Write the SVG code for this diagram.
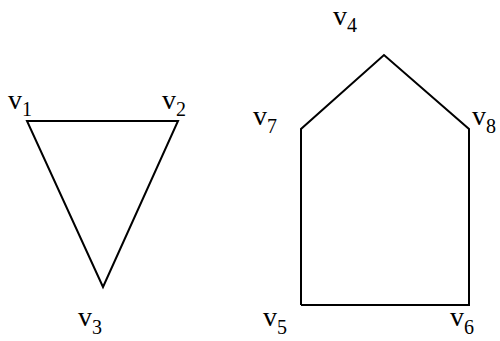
<svg xmlns="http://www.w3.org/2000/svg" width="500" height="341" viewBox="0 0 500 341">
<style>
.edge{fill:none;stroke:#000;stroke-width:2;stroke-linejoin:miter}
.lbl{font-family:"Liberation Serif","Times New Roman",serif;font-size:28px;fill:#000}
.sub{font-size:20px}
</style>
<rect width="500" height="341" fill="#fff"/>
<g id="connectors">
<polygon class="edge" points="27,121 178,121 103,287"/>
<polyline class="edge" points="301,305 301,129 384,55 469,129 469,305 301,305"/>
</g>
<g id="v1"><text class="lbl" x="8" y="109">v<tspan class="sub" dy="7">1</tspan></text></g>
<g id="v2"><text class="lbl" x="162" y="109">v<tspan class="sub" dy="7">2</tspan></text></g>
<g id="v3"><text class="lbl" x="78" y="326">v<tspan class="sub" dy="8">3</tspan></text></g>
<g id="v4"><text class="lbl" x="333" y="25">v<tspan class="sub" dy="7">4</tspan></text></g>
<g id="v5"><text class="lbl" x="263" y="326">v<tspan class="sub" dy="8">5</tspan></text></g>
<g id="v6"><text class="lbl" x="450" y="326">v<tspan class="sub" dy="8">6</tspan></text></g>
<g id="v7"><text class="lbl" x="253" y="125">v<tspan class="sub" dy="8">7</tspan></text></g>
<g id="v8"><text class="lbl" x="472" y="125">v<tspan class="sub" dy="8">8</tspan></text></g>
</svg>
